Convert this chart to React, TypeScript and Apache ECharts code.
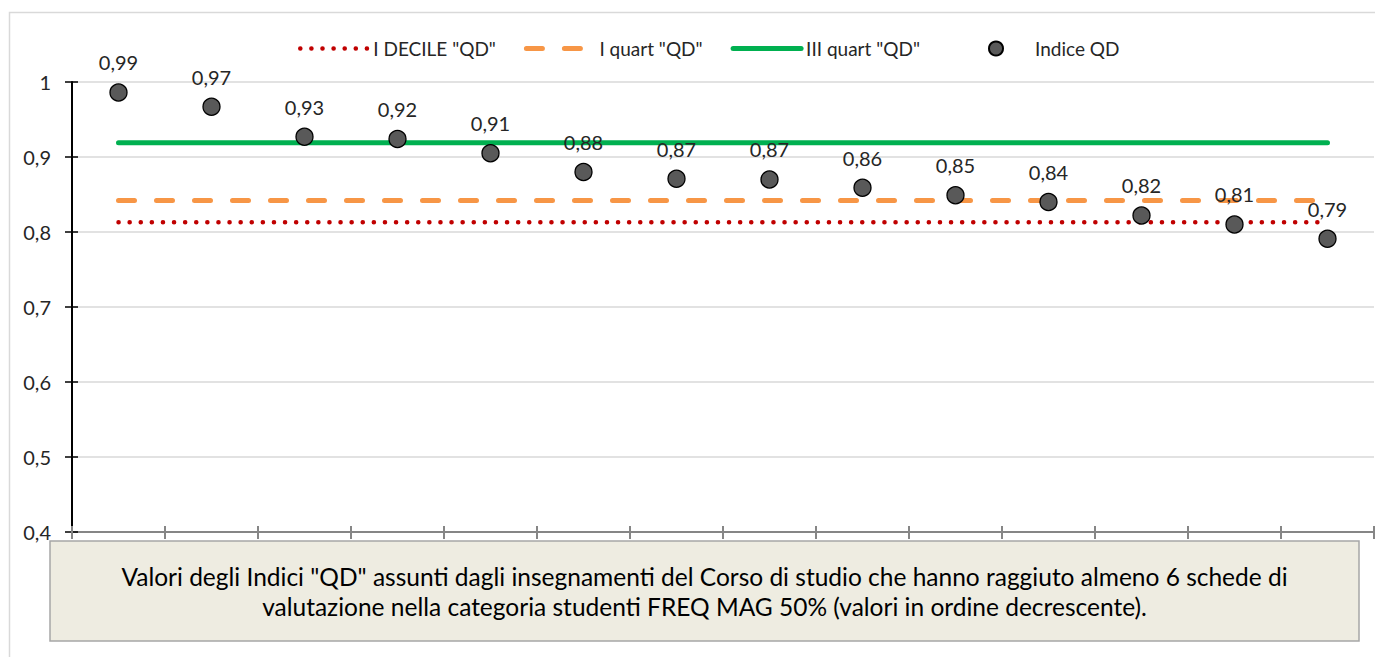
import React, { useEffect, useRef } from "react";
import * as echarts from "echarts";

const categories = ["1", "2", "3", "4", "5", "6", "7", "8", "9", "10", "11", "12", "13", "14"];
const indiceQD = [0.986, 0.967, 0.927, 0.924, 0.905, 0.88, 0.871, 0.870, 0.859, 0.849, 0.84, 0.822, 0.81, 0.791];
const iDecileValue = 0.813;
const iQuartValue = 0.842;
const iiiQuartValue = 0.919;
const yTicks = { min: 0.4, max: 1, interval: 0.1 };
const seriesNames = ['I DECILE "QD"', 'I quart "QD"', 'III quart "QD"', "Indice QD"];
const noteLines = [
  'Valori degli Indici "QD" assunti dagli insegnamenti del Corso di studio che hanno raggiuto almeno 6 schede di',
  "valutazione nella categoria studenti FREQ MAG 50% (valori in ordine decrescente).",
];

const FONT = "Lato, 'Open Sans', sans-serif";
const comma = (v: number, d: number) => v.toFixed(d).replace(".", ",");

export default function App() {
  const ref = useRef<HTMLDivElement>(null);
  useEffect(() => {
    document.body.style.margin = "0";
    const chart = echarts.init(ref.current!, undefined, { renderer: "svg" });
    const constLine = (v: number) => categories.map(() => v);
    const hiddenSymbol = { color: "transparent", borderColor: "transparent", borderWidth: 0, opacity: 0 };
    const legendText = { fontFamily: FONT, fontSize: 19, color: "#262626" };
    chart.setOption({
      animation: false,
      backgroundColor: "#ffffff",
      textStyle: { fontFamily: FONT },
      grid: { left: 72, top: 82, right: 1, bottom: 125, containLabel: false },
      legend: [
        {
          left: 293,
          top: 34,
          itemWidth: 68,
          itemHeight: 14,
          itemGap: 28,
          textStyle: legendText,
          data: [
            { name: seriesNames[0], itemStyle: hiddenSymbol, lineStyle: { width: 4.5 } },
            { name: seriesNames[1], itemStyle: hiddenSymbol, lineStyle: { width: 5 } },
            { name: seriesNames[2], itemStyle: hiddenSymbol, lineStyle: { width: 5 } },
          ],
        },
        {
          left: 983,
          top: 34,
          itemWidth: 68,
          itemHeight: 14,
          textStyle: legendText,
          data: [seriesNames[3]],
        },
      ],
      xAxis: [
        {
          type: "category",
          data: categories,
          boundaryGap: true,
          axisLine: { lineStyle: { color: "#868686", width: 2 } },
          axisTick: { show: true, inside: false, length: 7, lineStyle: { color: "#868686", width: 2 } },
          axisLabel: { show: false },
          splitLine: { show: false },
        },
        {
          type: "category",
          data: categories,
          position: "bottom",
          boundaryGap: true,
          axisLine: { show: false },
          axisTick: { show: true, inside: true, length: 6, lineStyle: { color: "#868686", width: 2 } },
          axisLabel: { show: false },
          splitLine: { show: false },
        },
      ],
      yAxis: [
        {
          type: "value",
          ...yTicks,
          position: "left",
          axisLine: { show: true, lineStyle: { color: "#000000", width: 2 } },
          axisTick: { show: true, inside: false, length: 7, lineStyle: { color: "#000000", width: 1.5 } },
          axisLabel: {
            margin: 21,
            fontFamily: FONT,
            fontSize: 20,
            color: "#262626",
            formatter: (v: number) => comma(Math.round(v * 10) / 10, Math.round(v * 10) % 10 === 0 ? 0 : 1),
          },
          splitLine: { show: true, lineStyle: { color: "#D9D9D9", width: 1.5 } },
        },
        {
          type: "value",
          ...yTicks,
          position: "left",
          offset: 0,
          axisLine: { show: false },
          axisTick: { show: true, inside: true, length: 6, lineStyle: { color: "#000000", width: 1.5 } },
          axisLabel: { show: false },
          splitLine: { show: false },
        },
      ],
      series: [
        {
          name: seriesNames[0],
          type: "line",
          data: constLine(iDecileValue),
          symbol: "none",
          lineStyle: { color: "#C00000", width: 4.5, type: [0.1, 11], cap: "round" },
          itemStyle: { color: "#C00000" },
          z: 2,
        },
        {
          name: seriesNames[1],
          type: "line",
          data: constLine(iQuartValue),
          symbol: "none",
          lineStyle: { color: "#F79646", width: 5, type: [16, 22], cap: "round" },
          itemStyle: { color: "#F79646" },
          z: 2,
        },
        {
          name: seriesNames[2],
          type: "line",
          data: constLine(iiiQuartValue),
          symbol: "none",
          lineStyle: { color: "#00B050", width: 5, cap: "round" },
          itemStyle: { color: "#00B050" },
          z: 2,
        },
        {
          name: seriesNames[3],
          type: "scatter",
          data: indiceQD,
          symbol: "circle",
          symbolSize: 17,
          itemStyle: { color: "#595959", borderColor: "#000000", borderWidth: 1.3, opacity: 1 },
          label: {
            show: true,
            position: "top",
            distance: 11,
            fontFamily: FONT,
            fontSize: 20,
            color: "#262626",
            formatter: (p: any) => comma(p.value, 2),
          },
          z: 5,
        },
      ],
      graphic: [
        {
          type: "rect",
          silent: true,
          z: -10,
          shape: { x: 9.5, y: 12.5, width: 1400, height: 700 },
          style: { fill: "none", stroke: "#D9D9D9", lineWidth: 1.5 },
        },
        {
          type: "rect",
          z: 100,
          shape: { x: 50, y: 541, width: 1309, height: 100 },
          style: { fill: "#EEECE1", stroke: "#A6A6A6", lineWidth: 1.5 },
        },
        {
          type: "text",
          z: 101,
          x: 704.5,
          y: 591,
          style: {
            text: noteLines.join("\n"),
            fontFamily: FONT,
            fontSize: 24.5,
            lineHeight: 30,
            fill: "#000000",
            textAlign: "center",
            textVerticalAlign: "middle",
          },
        },
      ],
    });
    return () => chart.dispose();
  }, []);
  return <div ref={ref} style={{ width: 1375, height: 657 }} />;
}
